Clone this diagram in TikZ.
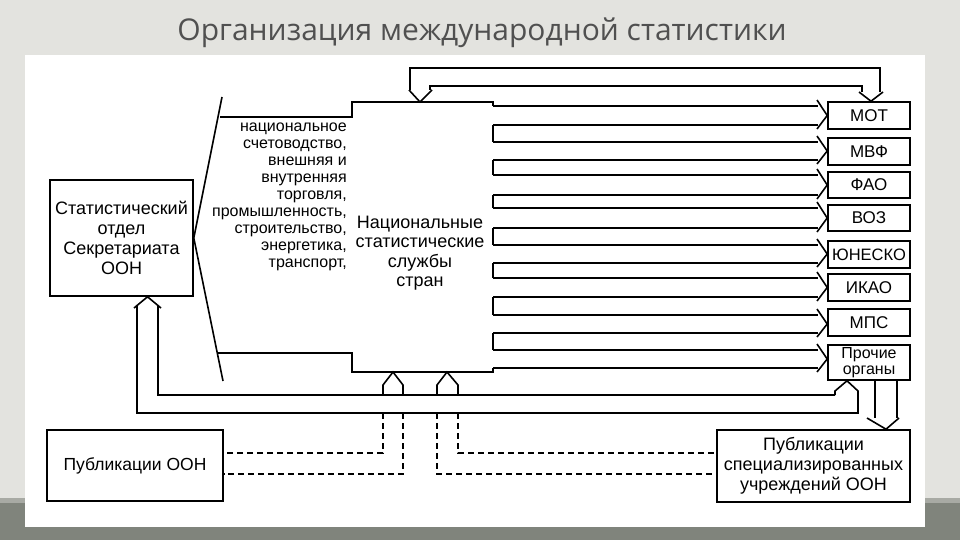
\documentclass[tikz,border=0pt]{standalone}
\usepackage{fontspec}
\setmainfont{Liberation Sans}
\newfontfamily\titlefont{Open Sans}
\begin{document}
\begin{tikzpicture}[x=1pt,y=-1pt,
  ln/.style={line width=1.6pt,line join=miter},
  box/.style={draw,line width=1.6pt,inner sep=0pt,font=\fontsize{17}{19}\selectfont,align=center},
  org/.style={box,minimum width=82pt},
  dsh/.style={line width=1.3pt,dash pattern=on 6pt off 4pt},
  lab/.style={font=\fontsize{16}{17}\selectfont,inner sep=0pt}]
\useasboundingbox (0,0) rectangle (960,540);
\fill[fill={rgb,255:red,227;green,227;blue,223}] (0,0) rectangle (960,540);
\fill[fill={rgb,255:red,168;green,170;blue,164}] (0,498) rectangle (960,503);
\fill[fill={rgb,255:red,128;green,132;blue,124}] (0,503) rectangle (960,540);
\fill[white] (25,55) rectangle (925,527);
\node[font=\titlefont\fontsize{30}{32}\selectfont,text={rgb,255:red,80;green,80;blue,80}] (title) at (482,33) {Организация международной статистики};
% left box
\node[box,minimum width=143pt,minimum height=116pt,font=\fontsize{18}{20}\selectfont] (stat) at (121.5,238) {Статистический\\отдел\\Секретариата\\ООН};
% fan lines
\coordinate (fan) at (stat.east);
\draw[ln] (222,97) -- (fan) -- (223,381);
% body outline
\draw[ln] (220,117) -- (352,117) -- (352,102) -- (493,102) -- (493,106);
\foreach \a/\b in {125/142,160/175,195/208,228/245,263/278,297/315,333/350}
  \draw[ln] (493,\a) -- (493,\b);
\draw[ln] (493,368) -- (493,372) -- (352,372) -- (352,353) -- (217,353);
% org boxes
\node[org,minimum height=27pt] (mot) at (869,115.5) {МОТ};
\node[org,minimum height=27pt] (mvf) at (869,151.5) {МВФ};
\node[org,minimum height=26pt] (fao) at (869,185) {ФАО};
\node[org,minimum height=26pt] (voz) at (869,218) {ВОЗ};
\node[org,minimum height=27pt,font=\fontsize{16.5}{19}\selectfont] (unesco) at (869,254.5) {ЮНЕСКО};
\node[org,minimum height=27pt] (ikao) at (869,287.5) {ИКАО};
\node[org,minimum height=27pt] (mps) at (869,322.5) {МПС};
\node[org,minimum height=35pt,font=\fontsize{16}{16}\selectfont] (proch) at (869,362.5) {Прочие\\органы};
% lanes
\foreach \t/\b/\n in {106/125/mot,142/160/mvf,175/195/fao,208/228/voz,245/263/unesco,278/297/ikao,315/333/mps,350/368/proch}{
  \draw[ln] (493,\t) -- (818,\t);
  \draw[ln] (493,\b) -- (818,\b);
  \draw[ln] (817,\t-6) -- (\n.west |- 0,{(\t+\b)/2}) -- (817,\b+4);
}
% top double arrow between MOT and national services
\draw[ln] (410,90) -- (410,68) -- (880,68) -- (880,92);
\draw[ln] (430,90) -- (430,86) -- (862,86) -- (862,92);
\draw[ln] (409,90) -- (420,102) -- (432,90);
\draw[ln] (859,92) -- (mot.north -| 871,0) -- (883,92);
% texts
\node[lab,align=right,anchor=north east] (topics) at (347,123) {национальное\\счетоводство,\\внешняя и\\внутренняя\\торговля,\\промышленность,\\строительство,\\энергетика,\\транспорт,};
\node[lab,font=\fontsize{18}{19.5}\selectfont,align=center] (nss) at (420,253) {Национальные\\статистические\\службы\\стран};
% bottom boxes
\node[box,minimum width=176pt,minimum height=71pt,font=\fontsize{17.5}{19}\selectfont] (publ) at (135,465.5) {Публикации ООН};
\node[box,minimum width=193pt,minimum height=72pt,font=\fontsize{18}{20}\selectfont] (publs) at (813.5,466) {Публикации\\специализированных\\учреждений ООН};
% return path from Прочие to stat
\draw[ln] (835,395) -- (835,391) -- (proch.south -| 847,0) -- (858,391) -- (858,413) -- (137,413) -- (137,306);
\draw[ln] (835,395) -- (158,395) -- (158,306);
\draw[ln] (134,308) -- (stat.south -| 147.5,0) -- (161,308);
% down arrow Прочие -> publs
\draw[ln] (875,380) -- (875,418);
\draw[ln] (897,380) -- (897,418);
\draw[ln] (867,418) -- (publs.north -| 886,0) -- (899,418);
% house arrows into body
\draw[ln] (383,395) -- (383,385) -- (393,372) -- (403,385) -- (403,395);
\draw[ln] (437,395) -- (437,385) -- (447,372) -- (458,385) -- (458,395);
% dashed links
\draw[dsh] (383,413) -- (383,453) -- (publ.east |- 0,453);
\draw[dsh] (403,413) -- (403,474) -- (publ.east |- 0,474);
\draw[dsh] (437,413) -- (437,474) -- (publs.west |- 0,474);
\draw[dsh] (458,413) -- (458,453) -- (publs.west |- 0,453);
\end{tikzpicture}
\end{document}
